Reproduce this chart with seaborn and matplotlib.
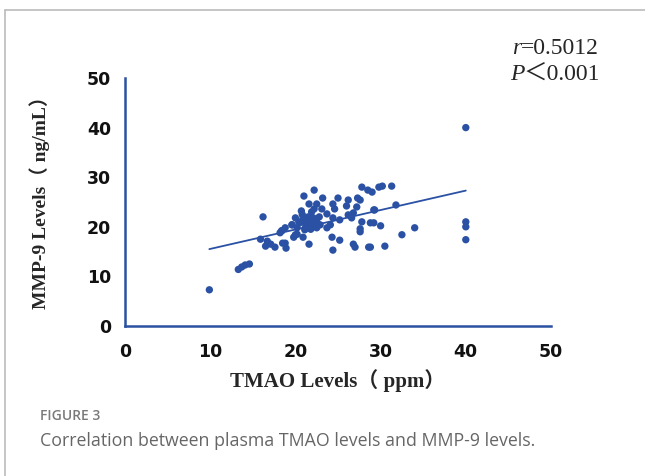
import matplotlib
matplotlib.use("Agg")
import matplotlib.pyplot as plt
import seaborn as sns
import pandas as pd
from matplotlib.lines import Line2D
from matplotlib.font_manager import FontProperties

tmao = [9.9, 13.3, 13.7, 14.1, 14.6, 16.2, 15.9, 16.7, 16.5, 17.1, 17.6, 18.5, 18.9,
        18.4, 18.2, 19.6, 19.8, 20.2, 20.4,
        22.2, 21.0, 23.2, 27.8, 28.5, 29.8, 25.0, 26.2, 27.3, 27.6, 21.6, 22.5, 24.4,
        26.0, 27.2, 22.2, 23.1, 24.6, 20.7, 21.9, 23.7, 26.8, 26.2, 29.2, 20.0, 20.9,
        21.5, 22.1, 22.5, 24.4, 25.2, 26.6, 20.5, 21.4, 21.9, 22.9, 24.1, 27.8, 28.8,
        19.6, 18.8, 20.2, 21.1, 22.5, 23.7, 27.6, 27.6, 18.4, 20.0, 20.9, 24.3, 25.2,
        18.8, 21.6, 26.8, 27.0, 28.6, 24.4,
        30.2, 31.3, 29.0, 29.3, 31.8, 29.2, 30.0, 34.0, 32.5, 28.8, 30.5,
        40.0, 40.0, 40.0, 40.0,
        21.0, 21.5, 22.0, 22.3, 21.2, 20.8, 22.8, 21.8]
mmp9 = [7.3, 11.4, 11.9, 12.3, 12.5, 22.0, 17.5, 17.1, 16.1, 16.5, 15.9, 16.7, 15.7,
        19.2, 18.8, 20.4, 17.9, 18.5, 21.0,
        27.4, 26.2, 25.8, 28.0, 27.4, 28.0, 25.8, 25.4, 25.8, 25.4, 24.6, 24.6, 24.6,
        24.2, 24.0, 23.6, 23.6, 23.6, 23.2, 23.0, 22.6, 22.8, 22.4, 23.4, 21.8, 21.8,
        21.4, 21.8, 21.0, 21.8, 21.4, 21.8, 20.8, 20.4, 20.4, 20.4, 20.4, 21.0, 20.8,
        20.4, 19.8, 19.8, 19.4, 19.8, 19.8, 19.6, 19.0, 19.2, 18.4, 17.9, 17.9, 17.3,
        16.7, 16.5, 16.5, 15.9, 15.9, 15.3,
        28.2, 28.2, 27.0, 23.4, 24.4, 20.8, 20.2, 19.8, 18.4, 15.9, 16.1,
        40.0, 21.0, 20.0, 17.4,
        21.0, 22.0, 20.5, 21.5, 20.0, 22.5, 22.0, 19.5]
fit_x = [9.9, 40.0]
fit_y = [15.5, 27.3]
ticks = [0, 10, 20, 30, 40, 50]

blue = "#2a51a3"
sns.set_style("white")

fig = plt.figure(figsize=(6.45, 4.76), dpi=100)
ax = fig.add_axes([125/645, 1 - 326/476, 426/645, 248/476])

df = pd.DataFrame({"TMAO": tmao, "MMP9": mmp9})
sns.scatterplot(data=df, x="TMAO", y="MMP9", ax=ax, color=blue, s=28,
                edgecolor="none", linewidth=0, clip_on=False)
sns.lineplot(x=fit_x, y=fit_y, ax=ax, color=blue, linewidth=1.3)

ax.set_xlim(0, 50)
ax.set_ylim(0, 50)
ax.set_xticks(ticks)
ax.set_yticks(ticks)
for s in ["top", "right"]:
    ax.spines[s].set_visible(False)
for s in ["left", "bottom"]:
    ax.spines[s].set_color(blue)
    ax.spines[s].set_linewidth(1.8)
ax.tick_params(axis="both", direction="out", length=7, width=1.8, color=blue, pad=3)
ax.tick_params(axis="x", pad=5)
tick_fp = FontProperties(family="DejaVu Sans", weight="bold", size=12.5)
ax.set_xticklabels([str(t) for t in ticks], fontproperties=tick_fp, color="#111111")
ax.set_yticklabels([str(t) for t in ticks], fontproperties=tick_fp, color="#111111")

serif = ["Liberation Serif", "Noto Sans CJK SC"]
ax.set_xlabel("TMAO Levels（ ppm）", family=serif, fontweight="bold",
              fontsize=15, labelpad=6)
ax.set_ylabel("MMP-9 Levels（ ng/mL）", family=serif, fontweight="bold",
              fontsize=14)
ax.yaxis.set_label_coords((50 - 125) / 426, (326 - 198) / 248)

# statistics annotation
fig.text(521/645, 1 - 49/476, "r", family="Liberation Serif", style="italic",
         fontsize=17, ha="right", va="center")
fig.text(521/645, 1 - 49/476, "=0.5012", family="Liberation Serif",
         fontsize=17, ha="left", va="center")
fig.text(524/645, 1 - 74/476, "P", family="Liberation Serif", style="italic",
         fontsize=17, ha="right", va="center")
fig.text(524/645, 1 - 74/476, "＜0.001", family=serif,
         fontsize=17, ha="left", va="center")

# caption
fig.text(40/645, 1 - 416/476, "FIGURE 3", family="Open Sans", fontsize=10,
         fontweight="semibold", color="#7a7a7a", va="center")
fig.text(40/645, 1 - 441/476,
         "Correlation between plasma TMAO levels and MMP-9 levels.",
         family="Open Sans", fontsize=12.8, color="#666666", va="center")

# frame lines
fig.add_artist(Line2D([5/645, 5/645], [0, 1 - 10/476], color="#bbbbbb",
                      linewidth=1.2, transform=fig.transFigure))
fig.add_artist(Line2D([5/645, 1], [1 - 10/476, 1 - 10/476], color="#bbbbbb",
                      linewidth=1.2, transform=fig.transFigure))

fig.savefig("out.png", dpi=100)
